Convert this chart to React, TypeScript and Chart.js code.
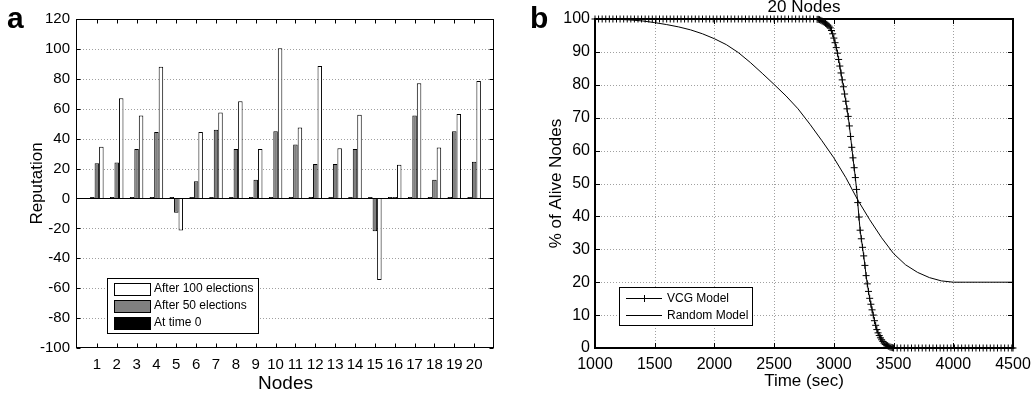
import React, { useEffect, useRef } from "react";
import { Chart, registerables } from "chart.js";

Chart.register(...registerables);
Chart.defaults.font.family = "'Liberation Sans', Arial, Helvetica, sans-serif";
Chart.defaults.color = "#000";

// ---------- Panel a data ----------
const nodes = [1, 2, 3, 4, 5, 6, 7, 8, 9, 10, 11, 12, 13, 14, 15, 16, 17, 18, 19, 20];
const nodeLabels = ["1", "2", "3", "4", "5", "6", "7", "8", "9", "10", "11", "12", "13", "14", "15", "16", "17", "18", "19", "20"];
const atTime0 = [1, 1, 1, 1, 1, 1, 1, 1, 1, 1, 1, 1, 1, 1, 1, 1, 1, 1, 1, 1];
const after50 = [23.5, 24, 33, 44.5, -9.5, 11.5, 46, 33, 12.5, 45, 36, 23, 23, 33, -22, 1, 55.5, 12.5, 45, 24.5];
const after100 = [34.5, 67, 55.5, 88, -21.5, 44.5, 57.5, 65, 33, 100.5, 47.5, 88.5, 33.5, 56, -54.5, 22.5, 77, 34, 56.5, 78.5];
const reputationTicks = [-100, -80, -60, -40, -20, 0, 20, 40, 60, 80, 100, 120];

// ---------- Panel b data ----------
const vcgTime = [
  1000, 1030, 1060, 1090, 1120, 1150, 1180, 1210, 1240, 1270,
  1300, 1330, 1360, 1390, 1420, 1450, 1480, 1510, 1540, 1570,
  1600, 1630, 1660, 1690, 1720, 1750, 1780, 1810, 1840, 1870,
  1900, 1930, 1960, 1990, 2020, 2050, 2080, 2110, 2140, 2170,
  2200, 2230, 2260, 2290, 2320, 2350, 2380, 2410, 2440, 2470,
  2500, 2530, 2560, 2590, 2620, 2650, 2680, 2710, 2740, 2770,
  2800, 2830,
  2860, 2870, 2880, 2890, 2900, 2910, 2920, 2930, 2940, 2950,
  2960, 2970, 2980, 2990, 3000, 3010, 3020, 3030, 3040, 3050,
  3060, 3070, 3080, 3090, 3100, 3110, 3120, 3130, 3140, 3150,
  3160, 3170, 3180, 3190, 3200, 3210, 3220, 3230, 3240, 3250,
  3260, 3270, 3280, 3290, 3300, 3310, 3320, 3330, 3340, 3350,
  3360, 3370, 3380, 3390, 3400, 3410, 3420, 3430, 3440, 3450,
  3460, 3470, 3480, 3490,
  3500, 3530, 3560, 3590, 3620, 3650, 3680, 3710, 3740, 3770,
  3800, 3830, 3860, 3890, 3920, 3950, 3980, 4010, 4040, 4070,
  4100, 4130, 4160, 4190, 4220, 4250, 4280, 4310, 4340, 4370,
  4400, 4430, 4460, 4490, 4500,
];
const vcgAlive = [
  100, 100, 100, 100, 100, 100, 100, 100, 100, 100,
  100, 100, 100, 100, 100, 100, 100, 100, 100, 100,
  100, 100, 100, 100, 100, 100, 100, 100, 100, 100,
  100, 100, 100, 100, 100, 100, 100, 100, 100, 100,
  100, 100, 100, 100, 100, 100, 100, 100, 100, 100,
  100, 100, 100, 100, 100, 100, 100, 100, 100, 100,
  100, 100,
  99.9, 99.9, 99.8, 99.6, 99.4, 99.2, 99.0, 98.7, 98.4, 98.1,
  97.8, 97.3, 96.5, 95.5, 94.2, 92.8, 91.3, 89.6, 87.7, 85.7,
  83.6, 81.5, 79.4, 77.2, 75.0, 72.7, 70.4, 67.5, 64.3, 61.0,
  57.8, 54.8, 51.8, 48.2, 44.2, 39.8, 35.8, 33.2, 30.6, 28.0,
  25.1, 22.0, 19.5, 17.2, 15.1, 13.3, 11.6, 10.0, 8.3, 6.9,
  5.6, 4.6, 3.8, 3.1, 2.5, 2.0, 1.5, 1.1, 0.9, 0.7,
  0.5, 0.3, 0.2, 0.1,
  0, 0, 0, 0, 0, 0, 0, 0, 0, 0,
  0, 0, 0, 0, 0, 0, 0, 0, 0, 0,
  0, 0, 0, 0, 0, 0, 0, 0, 0, 0,
  0, 0, 0, 0, 0,
];
const randomTime = [
  1000, 1100, 1200, 1300, 1400, 1500, 1600, 1700, 1800, 1900,
  2000, 2100, 2200, 2300, 2400, 2500, 2600, 2700, 2800, 2900,
  3000, 3100, 3200, 3300, 3400, 3500, 3600, 3700, 3800, 3900,
  4000, 4100, 4200, 4300, 4400, 4500,
];
const randomAlive = [
  100, 100, 99.9, 99.7, 99.4, 98.9, 98.3, 97.6, 96.7, 95.5,
  94.0, 92.2, 89.8, 86.8, 83.5, 80.1, 76.6, 72.7, 68.0, 63.0,
  57.8, 51.8, 45.0, 39.0, 33.5, 28.7, 25.3, 23.0, 21.4, 20.4,
  20.0, 20.0, 20.0, 20.0, 20.0, 20.0,
];
const timeTicks = [1000, 1500, 2000, 2500, 3000, 3500, 4000, 4500];
const aliveTicks = [0, 10, 20, 30, 40, 50, 60, 70, 80, 90, 100];

const FONT = "'Liberation Sans', Arial, Helvetica, sans-serif";

function seg(ctx: CanvasRenderingContext2D, x1: number, y1: number, x2: number, y2: number) {
  ctx.beginPath();
  ctx.moveTo(x1, y1);
  ctx.lineTo(x2, y2);
  ctx.stroke();
}

function noPad(s: any) {
  s.paddingLeft = 0;
  s.paddingRight = 0;
  s.paddingTop = 0;
  s.paddingBottom = 0;
}

// ---------- Panel a plugin ----------
const frameA = {
  id: "frameA",
  beforeDatasetsDraw(chart: any) {
    const { ctx, chartArea: ca, scales } = chart;
    const y = scales.y;
    ctx.save();
    ctx.strokeStyle = "#a0a0a0";
    ctx.lineWidth = 1;
    ctx.setLineDash([1, 2]);
    reputationTicks.forEach((v) => {
      const py = Math.round(y.getPixelForValue(v)) + 0.5;
      if (v === 0 || py <= ca.top + 2 || py >= ca.bottom - 2) return;
      seg(ctx, ca.left, py, ca.right, py);
    });
    ctx.restore();
  },
  afterDatasetsDraw(chart: any) {
    const { ctx, chartArea: ca, scales } = chart;
    const { x, y } = scales;
    ctx.save();
    ctx.strokeStyle = "#000";
    ctx.lineWidth = 1;
    const y0 = Math.round(y.getPixelForValue(0)) + 0.5;
    seg(ctx, ca.left, y0, ca.right, y0);
    const L = Math.round(ca.left) - 0.5, R = Math.round(ca.right) - 0.5;
    const T = Math.round(ca.top) + 0.5, B = Math.round(ca.bottom) - 0.5;
    ctx.strokeRect(L, T, R - L, B - T);
    const tl = 4;
    nodes.forEach((n) => {
      const px = Math.round(x.getPixelForValue(n)) + 0.5;
      seg(ctx, px, T, px, T + tl);
      seg(ctx, px, B, px, B - tl);
    });
    reputationTicks.forEach((v) => {
      const py = Math.round(y.getPixelForValue(v)) + 0.5;
      seg(ctx, L, py, L + tl, py);
      seg(ctx, R, py, R - tl, py);
    });
    ctx.restore();
  },
  afterDraw(chart: any) {
    const { ctx } = chart;
    ctx.save();
    const bx = 107, by = 278, bw = 151, bh = 55;
    ctx.fillStyle = "#fff";
    ctx.fillRect(bx, by, bw, bh);
    ctx.strokeStyle = "#000";
    ctx.lineWidth = 1;
    ctx.strokeRect(bx + 0.5, by + 0.5, bw, bh);
    const ds = chart.data.datasets.slice().reverse();
    ds.forEach((d: any, i: number) => {
      const cy = 289 + i * 17;
      ctx.fillStyle = d.backgroundColor;
      ctx.fillRect(114, cy - 6, 37, 13);
      ctx.strokeRect(114.5, cy - 5.5, 36, 12);
      ctx.fillStyle = "#000";
      ctx.font = `12px ${FONT}`;
      ctx.textBaseline = "middle";
      ctx.textAlign = "left";
      ctx.fillText(d.label, 154, cy);
    });
    ctx.font = `bold 30px ${FONT}`;
    ctx.textBaseline = "alphabetic";
    ctx.fillText("a", 7, 28);
    ctx.restore();
  },
};

// ---------- Panel b plugin ----------
const frameB = {
  id: "frameB",
  beforeDatasetsDraw(chart: any) {
    const { ctx, chartArea: ca, scales } = chart;
    const { x, y } = scales;
    ctx.save();
    ctx.strokeStyle = "#a0a0a0";
    ctx.lineWidth = 1;
    ctx.setLineDash([1, 2]);
    aliveTicks.forEach((v) => {
      const py = Math.round(y.getPixelForValue(v)) + 0.5;
      if (py <= ca.top + 2 || py >= ca.bottom - 2) return;
      seg(ctx, ca.left, py, ca.right, py);
    });
    timeTicks.forEach((v) => {
      const px = Math.round(x.getPixelForValue(v)) + 0.5;
      if (px <= ca.left + 2 || px >= ca.right - 2) return;
      seg(ctx, px, ca.top, px, ca.bottom);
    });
    ctx.restore();
  },
  afterDatasetsDraw(chart: any) {
    const { ctx, chartArea: ca, scales } = chart;
    const { x, y } = scales;
    ctx.save();
    ctx.strokeStyle = "#000";
    ctx.lineWidth = 2;
    const L = Math.round(ca.left), R = Math.round(ca.right);
    const T = Math.round(ca.top), B = Math.round(ca.bottom);
    ctx.strokeRect(L, T, R - L, B - T);
    ctx.lineWidth = 1;
    const tl = 5;
    timeTicks.forEach((v) => {
      const px = Math.round(x.getPixelForValue(v)) + 0.5;
      seg(ctx, px, T, px, T + tl);
      seg(ctx, px, B, px, B - tl);
    });
    aliveTicks.forEach((v) => {
      const py = Math.round(y.getPixelForValue(v)) + 0.5;
      seg(ctx, L, py, L + tl, py);
      seg(ctx, R, py, R - tl, py);
    });
    ctx.restore();
  },
  afterDraw(chart: any) {
    const { ctx, chartArea: ca } = chart;
    ctx.save();
    const bx = 103, by = 287, bw = 133, bh = 38;
    ctx.fillStyle = "#fff";
    ctx.fillRect(bx, by, bw, bh);
    ctx.strokeStyle = "#000";
    ctx.lineWidth = 1;
    ctx.strokeRect(bx + 0.5, by + 0.5, bw, bh);
    chart.data.datasets.forEach((d: any, i: number) => {
      const cy = 298.5 + i * 17;
      ctx.strokeStyle = "#000";
      seg(ctx, 110, cy, 146, cy);
      if (d.pointStyle === "cross") {
        seg(ctx, 128.5, cy - 3.5, 128.5, cy + 3.5);
      }
      ctx.fillStyle = "#000";
      ctx.font = `12px ${FONT}`;
      ctx.textBaseline = "middle";
      ctx.textAlign = "left";
      ctx.fillText(d.label, 151, cy);
    });
    ctx.font = `17px ${FONT}`;
    ctx.textAlign = "center";
    ctx.textBaseline = "alphabetic";
    ctx.fillText("20 Nodes", (ca.left + ca.right) / 2, 12);
    ctx.textAlign = "left";
    ctx.font = `bold 30px ${FONT}`;
    ctx.fillText("b", 14, 28);
    ctx.restore();
  },
};

function makeBarConfig(): any {
  const pts = (vals: number[]) => nodes.map((n, i) => ({ x: n, y: vals[i] }));
  return {
    type: "bar",
    data: {
      datasets: [
        { label: "At time 0", data: pts(atTime0), backgroundColor: "#000000", borderColor: "#000", borderWidth: 1 },
        { label: "After 50 elections", data: pts(after50), backgroundColor: "#808080", borderColor: "#000", borderWidth: 1 },
        { label: "After 100 elections", data: pts(after100), backgroundColor: "#ffffff", borderColor: "#000", borderWidth: 1 },
      ],
    },
    options: {
      responsive: false,
      animation: false,
      events: [],
      layout: { padding: { left: 0, right: 22, top: 19, bottom: 0 } },
      datasets: { bar: { categoryPercentage: 0.68, barPercentage: 1 } },
      plugins: { legend: { display: false }, tooltip: { enabled: false } },
      scales: {
        x: {
          type: "linear",
          min: 0,
          max: 21,
          offset: false,
          afterFit: (s: any) => { s.height = 48; noPad(s); },
          afterBuildTicks: (s: any) => { s.ticks = nodes.map((v) => ({ value: v })); },
          ticks: {
            autoSkip: false,
            maxRotation: 0,
            padding: 8,
            font: { size: 15 },
            color: "#000",
            callback: (v: number) => nodeLabels[nodes.indexOf(v)] ?? "",
          },
          grid: { display: false, drawTicks: false, offset: false },
          border: { display: false },
          title: { display: true, text: "Nodes", font: { size: 19 }, color: "#000", padding: { top: 0, bottom: 1 } },
        },
        y: {
          min: -100,
          max: 120,
          afterFit: (s: any) => { s.width = 77; noPad(s); },
          afterBuildTicks: (s: any) => { s.ticks = reputationTicks.map((v) => ({ value: v })); },
          ticks: { padding: 7, font: { size: 15 }, color: "#000" },
          grid: { display: false, drawTicks: false },
          border: { display: false },
          title: { display: true, text: "Reputation", font: { size: 17 }, color: "#000", padding: { top: 27, bottom: 0 } },
        },
      },
    },
    plugins: [frameA],
  };
}

function makeLineConfig(): any {
  return {
    type: "line",
    data: {
      datasets: [
        {
          label: "VCG Model",
          data: vcgTime.map((t, i) => ({ x: t, y: vcgAlive[i] })),
          borderColor: "#000",
          borderWidth: 1,
          pointStyle: "cross",
          pointRadius: 3.5,
          pointBorderWidth: 1,
          pointBorderColor: "#000",
          pointBackgroundColor: "#000",
          tension: 0,
          fill: false,
          clip: false,
        },
        {
          label: "Random Model",
          data: randomTime.map((t, i) => ({ x: t, y: randomAlive[i] })),
          borderColor: "#000",
          borderWidth: 1,
          pointRadius: 0,
          tension: 0,
          fill: false,
        },
      ],
    },
    options: {
      responsive: false,
      animation: false,
      events: [],
      layout: { padding: { left: 0, right: 19, top: 19, bottom: 0 } },
      plugins: { legend: { display: false }, tooltip: { enabled: false } },
      scales: {
        x: {
          type: "linear",
          min: 1000,
          max: 4500,
          offset: false,
          afterFit: (s: any) => { s.height = 48; noPad(s); },
          afterBuildTicks: (s: any) => { s.ticks = timeTicks.map((v) => ({ value: v })); },
          ticks: { autoSkip: false, maxRotation: 0, padding: 7, font: { size: 16 }, color: "#000", callback: (v: number) => String(v) },
          grid: { display: false, drawTicks: false },
          border: { display: false },
          title: { display: true, text: "Time (sec)", font: { size: 17 }, color: "#000", padding: { top: 0, bottom: 4 } },
        },
        y: {
          min: 0,
          max: 100,
          afterFit: (s: any) => { s.width = 79; noPad(s); },
          afterBuildTicks: (s: any) => { s.ticks = aliveTicks.map((v) => ({ value: v })); },
          ticks: { padding: 5, font: { size: 16 }, color: "#000" },
          grid: { display: false, drawTicks: false },
          border: { display: false },
          title: { display: true, text: "% of Alive Nodes", font: { size: 17 }, color: "#000", padding: { top: 30, bottom: 0 } },
        },
      },
    },
    plugins: [frameB],
  };
}

function ChartCanvas({ makeConfig, left, width, height }: { makeConfig: () => any; left: number; width: number; height: number }) {
  const ref = useRef<HTMLCanvasElement>(null);
  useEffect(() => {
    const chart = new Chart(ref.current as HTMLCanvasElement, makeConfig());
    return () => chart.destroy();
  }, []);
  return (
    <canvas
      ref={ref}
      width={width}
      height={height}
      style={{ position: "absolute", left, top: 0, width, height, display: "block" }}
    />
  );
}

export default function App() {
  return (
    <div style={{ position: "absolute", left: 0, top: 0, width: 1032, height: 396, background: "#fff", overflow: "hidden" }}>
      <ChartCanvas makeConfig={makeBarConfig} left={0} width={516} height={396} />
      <ChartCanvas makeConfig={makeLineConfig} left={516} width={516} height={396} />
    </div>
  );
}
